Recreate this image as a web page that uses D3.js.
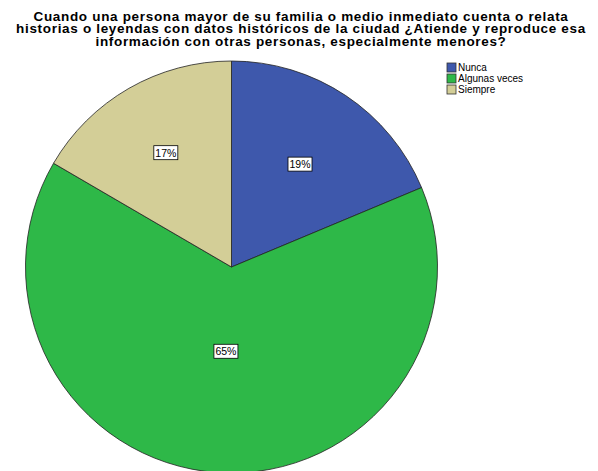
<!DOCTYPE html>
<html>
<head>
<meta charset="utf-8">
<script src="https://cdn.jsdelivr.net/npm/d3@7"></script>
<style>
  body { margin: 0; background: #fff; }
  svg { display: block; font-family: Arial, "Liberation Sans", sans-serif; }
</style>
</head>
<body>
<div id="chart"></div>
<script>
var width = 598
var height = 471

var titleLines = [
  "Cuando una persona mayor de su familia o medio inmediato cuenta o relata",
  "historias o leyendas con datos históricos de la ciudad ¿Atiende y reproduce esa",
  "información con otras personas, especialmente menores?"
]

var categories = ["Nunca", "Algunas veces", "Siempre"]
var values = [18.7, 64.7, 16.6]
var labels = ["19%", "65%", "17%"]

var color = d3.scaleOrdinal()
  .domain(categories)
  .range(["#3e58ac", "#2eb848", "#d3ce97"])

// label distance from centre, as share of radius
var labelPos = { "Nunca": 0.6, "Algunas veces": 0.41, "Siempre": 0.64 }

var cx = 231.5, cy = 267, R = 206

var svg = d3.select("#chart").append("svg")
  .attr("width", width)
  .attr("height", height)

svg.selectAll(".title")
  .data(titleLines)
  .enter().append("text")
  .attr("class", "title")
  .attr("x", 301)
  .attr("y", (d, i) => 20.5 + i * 12.6)
  .attr("text-anchor", "middle")
  .style("font-size", "13.5px")
  .style("letter-spacing", "0.68px")
  .style("font-weight", "bold")
  .text(d => d)

var data = categories.map((c, i) => ({ cat: c, value: values[i], label: labels[i] }))

var pie = d3.pie().sort(null).value(d => d.value)
var arc = d3.arc().innerRadius(0).outerRadius(R)

var g = svg.append("g")
  .attr("transform", "translate(" + cx + "," + cy + ")")

var arcs = pie(data)

g.selectAll("path")
  .data(arcs)
  .enter().append("path")
  .attr("d", arc)
  .style("fill", d => color(d.data.cat))
  .style("stroke", "#222")
  .style("stroke-width", 0.8)

var lab = g.selectAll(".lab")
  .data(arcs)
  .enter().append("g")
  .attr("class", "lab")
  .attr("transform", function (d) {
    var a = (d.startAngle + d.endAngle) / 2
    var r = R * labelPos[d.data.cat]
    return "translate(" + (Math.sin(a) * r) + "," + (-Math.cos(a) * r) + ")"
  })

lab.append("rect")
  .attr("x", -12)
  .attr("y", -7)
  .attr("width", 24)
  .attr("height", 14)
  .style("fill", "#fff")
  .style("stroke", "#000")
  .style("stroke-width", 0.8)

lab.append("text")
  .attr("text-anchor", "middle")
  .attr("y", 4)
  .style("font-size", "10.5px")
  .text(d => d.data.label)

var legend = svg.append("g")
  .attr("transform", "translate(447,63)")
  .selectAll("g")
  .data(categories)
  .enter().append("g")
  .attr("transform", (d, i) => "translate(0," + i * 11 + ")")

legend.append("rect")
  .attr("width", 9)
  .attr("height", 9)
  .style("fill", d => color(d))
  .style("stroke", "#333")
  .style("stroke-width", 0.8)

legend.append("text")
  .attr("x", 11)
  .attr("y", 8)
  .style("font-size", "10px")
  .text(d => d)
</script>
</body>
</html>
